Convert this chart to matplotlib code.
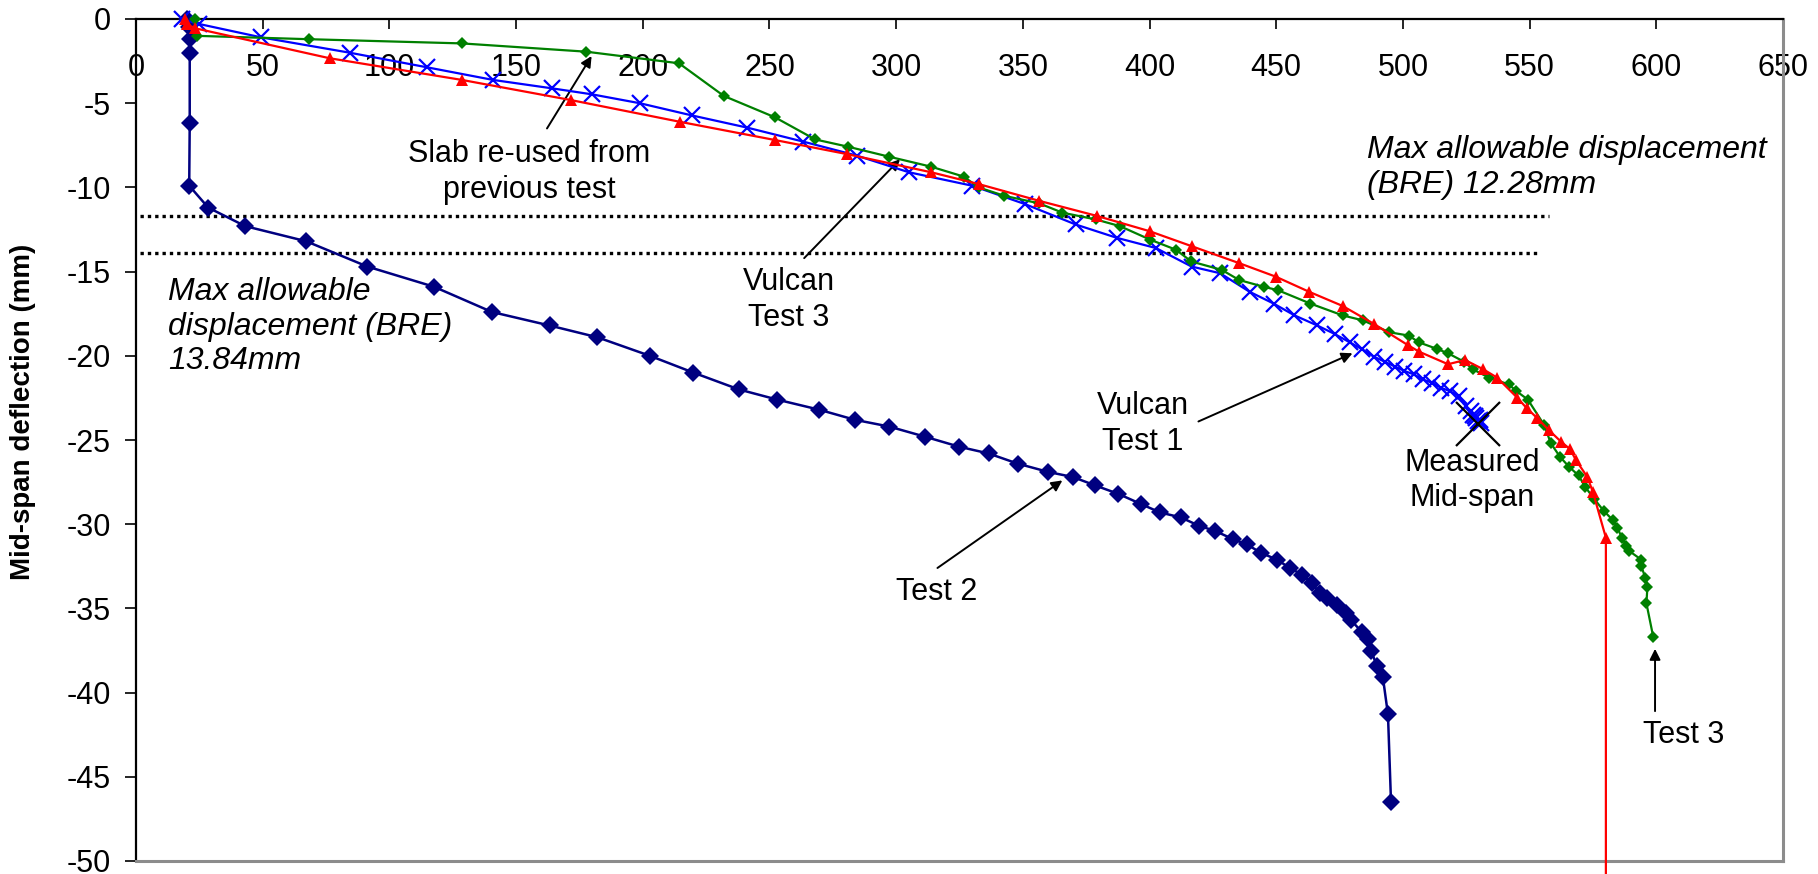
import matplotlib
matplotlib.use('Agg')
import matplotlib.pyplot as plt

plt.rcParams['font.family'] = ['Liberation Sans', 'DejaVu Sans']
plt.rcParams['axes.unicode_minus'] = False

# ---------------- data ----------------
# Test 2 (measured)
test2_x = [20, 21, 21.2, 21.2, 21.2, 21.0, 28.5, 43.1, 67.2, 91.3, 117.6, 140.5, 163.2, 182.1,
           202.8, 220, 238, 253, 269.6, 283.7, 297.2, 311.3, 324.9, 336.5, 347.9, 360.1,
           369.8, 378.6, 387.7, 396.6, 404.1, 412.4, 419.6, 425.9, 433.1, 438.4, 444,
           450.2, 455.4, 460.2, 464.1, 467.2, 470, 474, 477.5, 479.5, 483.8, 486.2, 487.4,
           489.7, 492.1, 494.1, 495.3]
test2_y = [0, -0.5, -1.2, -2.04, -6.2, -9.9, -11.2, -12.3, -13.2, -14.7, -15.9, -17.4, -18.2,
           -18.9, -20.0, -21.0, -22.0, -22.6, -23.2, -23.8, -24.2, -24.8, -25.4, -25.8, -26.4,
           -26.9, -27.2, -27.7, -28.2, -28.8, -29.3, -29.6, -30.1, -30.4, -30.9, -31.2, -31.7,
           -32.1, -32.6, -33.0, -33.5, -34.1, -34.4, -34.8, -35.3, -35.7, -36.4, -36.8, -37.5,
           -38.4, -39.1, -41.3, -46.5]

# Vulcan Test 1
vulcan1_x = [18, 25, 49.4, 84.3, 114.9, 141, 164.3, 179.8, 198.8, 219.5, 241.2, 263.3, 284.4,
             305, 330, 351, 370.8, 387.2, 402.5, 416.6, 427.9, 439.5, 449, 457.2, 466.2, 473,
             479, 483.8, 488.5, 492.8, 497, 500.6, 504.2, 507.8, 511.4, 515, 518.6, 522.2,
             525, 526.8, 527.5, 528.6, 529, 529.5, 530.4, 531]
vulcan1_y = [0, -0.3, -1.09, -2.0, -2.87, -3.62, -4.12, -4.47, -5.0, -5.73, -6.45, -7.28, -8.11,
             -9.1, -9.9, -11.0, -12.2, -13.0, -13.6, -14.7, -15.1, -16.2, -16.9, -17.6, -18.2,
             -18.7, -19.2, -19.6, -20.05, -20.35, -20.65, -20.9, -21.1, -21.4, -21.6, -21.9,
             -22.1, -22.4, -23.0, -23.3, -23.5, -23.6, -23.7, -23.9, -23.8, -24.0]

# Test 3 (measured)
test3_x = [23.3, 24, 68.3, 128.7, 177.6, 214.3, 232, 252.2, 268, 280.9, 297.3, 313.8, 326.7,
           332.5, 342.7, 356.5, 365.6, 378.7, 388.3, 400.2, 410.4, 416.5, 428.5, 435.4, 445,
           450.6, 463.5, 476.2, 484.3, 494.6, 502.3, 506.3, 513.6, 517.8, 524.1, 527.6, 534,
           541.8, 544.8, 549.3, 555.7, 558.4, 562, 565.6, 569.3, 572, 575.5, 579.2, 582.8,
           584.6, 586.4, 588.2, 589.4, 594.0, 594.1, 595.7, 596.5, 596.1, 598.8]
test3_y = [0, -1.0, -1.2, -1.45, -1.94, -2.63, -4.57, -5.84, -7.15, -7.58, -8.18, -8.77, -9.36,
           -10.0, -10.5, -10.95, -11.5, -11.9, -12.3, -13.1, -13.7, -14.4, -14.9, -15.5, -15.9,
           -16.1, -16.9, -17.6, -17.9, -18.6, -18.8, -19.2, -19.6, -19.85, -20.35, -20.8, -21.3,
           -21.7, -22.1, -22.6, -24.1, -25.2, -26.0, -26.6, -27.1, -27.8, -28.5, -29.2, -29.75,
           -30.2, -30.8, -31.3, -31.6, -32.1, -32.5, -33.2, -33.7, -34.7, -36.7]

# Vulcan Test 3
vulcan3_x = [19.5, 20, 23.3, 76.4, 128.7, 171.5, 214.5, 252.3, 280.5, 313.8, 332.5, 356.5,
             379.4, 400, 416.8, 435.4, 449.8, 463, 476.2, 488.5, 501.9, 506.3, 517.8, 524.5,
             531.7, 537.2, 545.2, 548.8, 553, 557.5, 562.4, 566, 568.3, 572.8, 575, 580.1, 580.1]
vulcan3_y = [0, -0.3, -0.55, -2.33, -3.62, -4.81, -6.1, -7.19, -8.02, -9.1, -9.8, -10.8,
             -11.7, -12.6, -13.5, -14.5, -15.3, -16.2, -17.04, -18.1, -19.36, -19.75, -20.5,
             -20.25, -20.8, -21.3, -22.5, -23.1, -23.7, -24.4, -25.1, -25.55, -26.2, -27.2,
             -28.1, -30.8, -56]

# Measured mid-span (Test 1)
measured_x = [529.7]
measured_y = [-24.05]

# BRE limits (dotted lines)
bre_upper_y = -11.68
bre_upper_x = [1.5, 557.6]
bre_lower_y = -13.88
bre_lower_x = [1.5, 553.5]

x_ticks = list(range(0, 651, 50))
y_ticks = list(range(0, -51, -5))

# ---------------- figure ----------------
fig = plt.figure(figsize=(18.18, 8.74), dpi=100)
ax = fig.add_axes([136 / 1818, 13 / 874, 1647 / 1818, 842 / 874])
ax.set_xlim(0, 650)
ax.set_ylim(-50, 0)

ax.plot(test2_x, test2_y, color='#000080', lw=1.8, marker='D', ms=9, mew=0, clip_on=False, zorder=3)
ax.plot(vulcan1_x, vulcan1_y, color='#0000FF', lw=1.6, marker='x', ms=12, mew=1.6, clip_on=False, zorder=4)
ax.plot(test3_x, test3_y, color='#008000', lw=1.6, marker='D', ms=6, mew=0, clip_on=False, zorder=5)
ax.plot(vulcan3_x, vulcan3_y, color='#FF0000', lw=1.6, marker='^', ms=8.5, mew=0, clip_on=False, zorder=6)
ax.plot(measured_x, measured_y, color='black', lw=0, marker='x', ms=32, mew=1.6, zorder=7)

ax.plot(bre_upper_x, [bre_upper_y] * 2, color='black', lw=2.4, linestyle=(0, (1, 1.2)),
        dash_capstyle='butt', zorder=2)
ax.plot(bre_lower_x, [bre_lower_y] * 2, color='black', lw=2.4, linestyle=(0, (1, 1.2)),
        dash_capstyle='butt', zorder=2)

# axes styling
for side in ['top', 'left']:
    ax.spines[side].set_color('black')
    ax.spines[side].set_linewidth(1.6)
for side in ['right', 'bottom']:
    ax.spines[side].set_color('#8c8c8c')
    ax.spines[side].set_linewidth(2.2)

ax.xaxis.tick_top()
ax.set_xticks(x_ticks)
ax.set_xticklabels([str(v) for v in x_ticks])
ax.tick_params(axis='x', direction='in', length=7, width=1.2, labelsize=22, pad=-46)
ax.set_yticks(y_ticks)
ax.set_yticklabels([str(v) for v in y_ticks])
ax.tick_params(axis='y', direction='out', length=8, width=1.2, labelsize=22, pad=10)
ax.tick_params(axis='both', which='both', bottom=False, right=False)

fig.text(23 / 1818, 1 - 412 / 874, 'Mid-span deflection (mm)', rotation=90, fontsize=20,
         fontweight='bold', ha='center', va='center')

# annotations
arrow = dict(arrowstyle='-|>', color='black', lw=1.4, mutation_scale=16, shrinkA=0, shrinkB=0)
ax.annotate('', xy=(179.8, -2.2), xytext=(162.2, -6.5), arrowprops=arrow)
ax.text(155.1, -9.07, 'Slab re-used from\nprevious test', fontsize=22, ha='center', va='center',
        linespacing=1.25)

ax.annotate('', xy=(301.5, -8.33), xytext=(263.7, -14.2), arrowprops=arrow)
ax.text(257.7, -16.7, 'Vulcan\nTest 3', fontsize=22, ha='center', va='center', linespacing=1.25)

ax.annotate('', xy=(480.1, -19.85), xytext=(419.3, -23.9), arrowprops=arrow)
ax.text(397.2, -24.05, 'Vulcan\nTest 1', fontsize=22, ha='center', va='center', linespacing=1.25)

ax.text(527.5, -27.4, 'Measured\nMid-span', fontsize=22, ha='center', va='center', linespacing=1.25)

ax.annotate('', xy=(365.6, -27.4), xytext=(316.3, -32.6), arrowprops=arrow)
ax.text(316, -34.0, 'Test 2', fontsize=22, ha='center', va='center')

ax.annotate('', xy=(599.5, -37.4), xytext=(599.5, -41.1), arrowprops=arrow)
ax.text(610.9, -42.5, 'Test 3', fontsize=22, ha='center', va='center')

ax.text(486, -8.82, 'Max allowable displacement\n(BRE) 12.28mm', fontsize=23, style='italic',
        ha='left', va='center', linespacing=1.2)
ax.text(12.6, -18.27, 'Max allowable\ndisplacement (BRE)\n13.84mm', fontsize=23, style='italic',
        ha='left', va='center', linespacing=1.2)

fig.savefig('out.png', dpi=100)
